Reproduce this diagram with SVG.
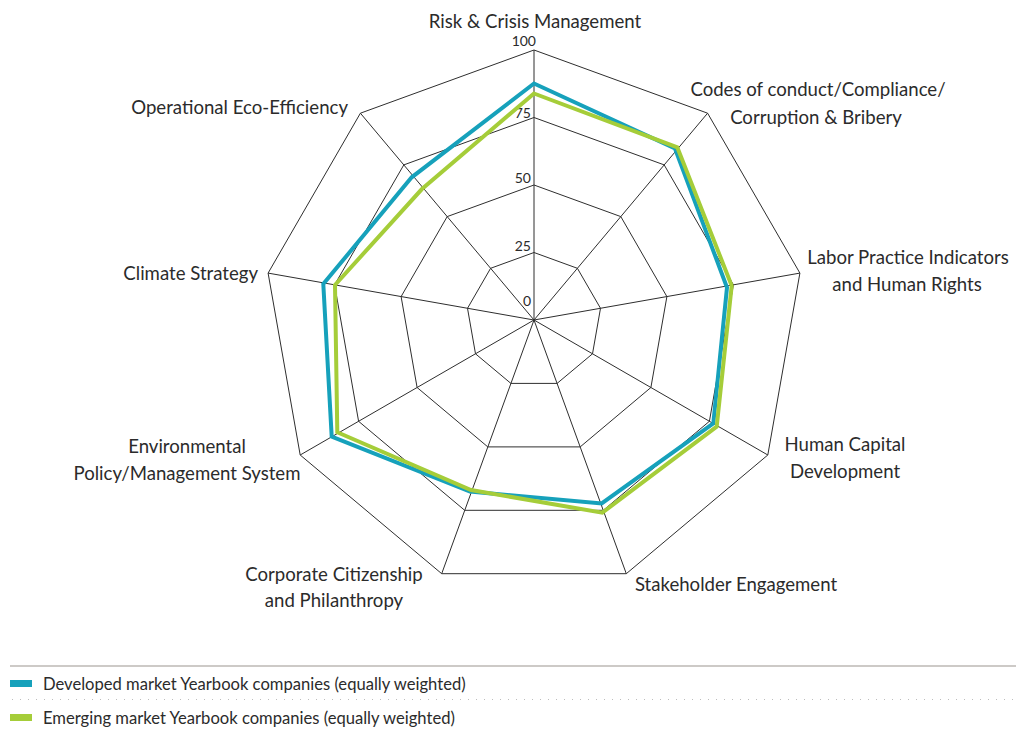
<svg xmlns="http://www.w3.org/2000/svg" width="1016" height="731" viewBox="0 0 1016 731">
<style>
.grid{fill:none;stroke:#2e2e2e;stroke-width:1}
.lbl{font-family:Lato,"Liberation Sans",sans-serif;font-size:18.6px;fill:#2b2b2b}
.tick{font-family:Lato,"Liberation Sans",sans-serif;font-size:14px;fill:#2b2b2b;text-anchor:end}
.leg{font-family:Lato,"Liberation Sans",sans-serif;font-size:16.6px;fill:#2b2b2b}
.dev{fill:none;stroke:#16a1bb;stroke-width:4;stroke-linejoin:miter}
.emg{fill:none;stroke:#a5cd39;stroke-width:4;stroke-linejoin:miter}
</style>
<rect width="1016" height="731" fill="#fff"/>
<g id="grid">
<polygon class="grid" points="534,50 707.6,113.2 799.9,273.1 767.8,455 626.3,573.7 441.7,573.7 300.2,455 268.1,273.1 360.4,113.2"/>
<polygon class="grid" points="534,117.5 664.2,164.9 733.4,284.8 709.4,421.3 603.3,510.3 464.7,510.3 358.6,421.3 334.6,284.8 403.8,164.9"/>
<polygon class="grid" points="534,185 620.8,216.6 666.9,296.6 650.9,387.5 580.2,446.9 487.8,446.9 417.1,387.5 401.1,296.6 447.2,216.6"/>
<polygon class="grid" points="534,252.5 577.4,268.3 600.5,308.3 592.5,353.8 557.1,383.4 510.9,383.4 475.5,353.8 467.5,308.3 490.6,268.3"/>
</g>
<g id="axes" class="grid">
<line x1="534" y1="320" x2="534" y2="50"/>
<line x1="534" y1="320" x2="707.6" y2="113.2"/>
<line x1="534" y1="320" x2="799.9" y2="273.1"/>
<line x1="534" y1="320" x2="767.8" y2="455"/>
<line x1="534" y1="320" x2="626.3" y2="573.7"/>
<line x1="534" y1="320" x2="441.7" y2="573.7"/>
<line x1="534" y1="320" x2="300.2" y2="455"/>
<line x1="534" y1="320" x2="268.1" y2="273.1"/>
<line x1="534" y1="320" x2="360.4" y2="113.2"/>
</g>
<g id="ticks">
<text class="tick" x="536" y="46">100</text>
<text class="tick" x="531" y="118">75</text>
<text class="tick" x="531" y="183">50</text>
<text class="tick" x="531" y="251">25</text>
<text class="tick" x="531" y="306">0</text>
</g>
<g id="series">
<polygon id="developed" class="dev" points="534,83.5 675,148.5 727,287.5 713.3,423.5 601.7,503.5 470,491.5 331.7,436.7 323.3,284 411.7,177.3"/>
<polygon id="emerging" class="emg" points="534,93.5 677.3,147.3 731.7,285.7 716.7,426.7 602.3,512.7 471,490 337.3,432.3 335,285 421.7,189.3"/>
</g>
<g id="label-risk"><text class="lbl" x="535" y="28" text-anchor="middle">Risk &amp; Crisis Management</text></g>
<g id="label-codes"><text class="lbl" x="818" y="95.5" text-anchor="middle">Codes of conduct/Compliance/</text><text class="lbl" x="816" y="123.5" text-anchor="middle">Corruption &amp; Bribery</text></g>
<g id="label-labor"><text class="lbl" x="908" y="264" text-anchor="middle">Labor Practice Indicators</text><text class="lbl" x="907" y="291" text-anchor="middle">and Human Rights</text></g>
<g id="label-human"><text class="lbl" x="845" y="451" text-anchor="middle">Human Capital</text><text class="lbl" x="845" y="478" text-anchor="middle">Development</text></g>
<g id="label-stakeholder"><text class="lbl" x="736" y="591" text-anchor="middle">Stakeholder Engagement</text></g>
<g id="label-corporate"><text class="lbl" x="334" y="581" text-anchor="middle">Corporate Citizenship</text><text class="lbl" x="334" y="607" text-anchor="middle">and Philanthropy</text></g>
<g id="label-environmental"><text class="lbl" x="187" y="453" text-anchor="middle">Environmental</text><text class="lbl" x="187" y="480" text-anchor="middle">Policy/Management System</text></g>
<g id="label-climate"><text class="lbl" x="258" y="280" text-anchor="end">Climate Strategy</text></g>
<g id="label-operational"><text class="lbl" x="348" y="114" text-anchor="end">Operational Eco-Efficiency</text></g>
<g id="legend">
<line x1="10" y1="666" x2="1016" y2="666" stroke="#bdb8b4" stroke-width="1.5"/>
<rect x="10" y="680" width="22" height="7" fill="#16a1bb"/>
<text class="leg" x="43" y="689.5">Developed market Yearbook companies (equally weighted)</text>
<line x1="12" y1="699.5" x2="1016" y2="699.5" stroke="#bdbdbd" stroke-width="1" stroke-dasharray="1 7"/>
<rect x="10" y="714" width="22" height="7" fill="#a5cd39"/>
<text class="leg" x="43" y="723.5">Emerging market Yearbook companies (equally weighted)</text>
</g>
</svg>
